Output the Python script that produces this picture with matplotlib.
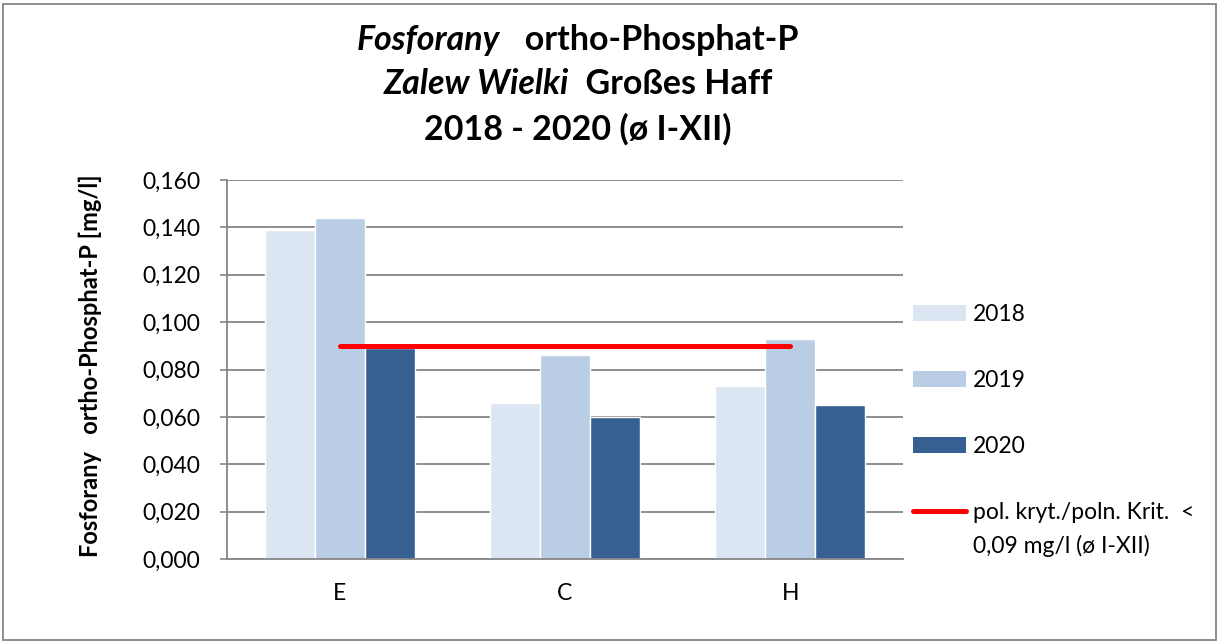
import matplotlib
matplotlib.use("Agg")
import numpy as np
import matplotlib.pyplot as plt
from matplotlib.patches import Patch, Rectangle
from matplotlib.lines import Line2D

plt.rcParams['font.family'] = ['Lato', 'DejaVu Sans']

stations = ["E", "C", "H"]
years = ["2018", "2019", "2020"]
values = {
    "2018": [0.139, 0.066, 0.073],
    "2019": [0.144, 0.086, 0.093],
    "2020": [0.089, 0.060, 0.065],
}
colors = {"2018": "#DCE6F2", "2019": "#B9CDE5", "2020": "#376092"}
criterion = 0.09
yticks = [0.0, 0.02, 0.04, 0.06, 0.08, 0.10, 0.12, 0.14, 0.16]
ytick_labels = ["0,000", "0,020", "0,040", "0,060", "0,080", "0,100", "0,120", "0,140", "0,160"]
crit_label = "pol. kryt./poln. Krit.  <"
crit_label2 = "0,09 mg/l (ø I-XII)"

W, H = 1218, 641
fs = 16.5
fig = plt.figure(figsize=(W / 100, H / 100), dpi=100)
ax = fig.add_axes([227 / W, (H - 559) / H, 676 / W, 379 / H])

x = np.arange(len(stations))
bw = 0.222
for i, y in enumerate(years):
    ax.bar(x + (i - 1) * bw, values[y], width=bw, color=colors[y],
           edgecolor="white", linewidth=1.0, zorder=2, label=y)

ax.plot([x[0], x[-1]], [criterion, criterion], color="#FF0000", lw=3.6,
        solid_capstyle="round", zorder=3)

ax.set_xlim(-0.5, 2.5)
ax.set_ylim(0, 0.16)
ax.set_yticks(yticks)
ax.set_yticklabels(ytick_labels, fontsize=fs)
ax.set_xticks(x)
ax.set_xticklabels(stations, fontsize=fs)
ax.tick_params(axis="x", length=0, pad=17)
ax.tick_params(axis="y", length=5, width=1.2, color="#868686", pad=14)
ax.yaxis.grid(True, color="#868686", lw=1.3)
ax.set_axisbelow(True)
for s in ["top", "right"]:
    ax.spines[s].set_visible(False)
for s in ["left", "bottom"]:
    ax.spines[s].set_color("#868686")
    ax.spines[s].set_linewidth(1.3)

fig.text(90 / W, 1 - 366 / H, "Fosforany   ortho-Phosphat-P [mg/l]", rotation=90,
         ha="center", va="center", fontsize=17, fontweight="bold")

# title with mixed italic / regular bold pieces
fig.canvas.draw()
r = fig.canvas.get_renderer()
title_lines = [
    [("Fosforany", "italic"), ("   ortho-Phosphat-P", "normal")],
    [("Zalew Wielki", "italic"), ("  Großes Haff", "normal")],
    [("2018 - 2020 (ø I-XII)", "normal")],
]
title_y = [40, 84, 129]
cx = 578
for parts, ty in zip(title_lines, title_y):
    texts = [fig.text(0, 1 - ty / H, s, fontsize=24.5, fontweight="bold", style=st,
                      va="center", ha="left") for s, st in parts]
    widths = [t.get_window_extent(r).width for t in texts]
    pos = cx - sum(widths) / 2
    for t, w in zip(texts, widths):
        t.set_x(pos / W)
        pos += w

handles = [Patch(facecolor=colors[y], edgecolor="none") for y in years]
handles.append(Line2D([0], [0], color="#FF0000", lw=3.6, solid_capstyle="round"))
leg = fig.legend(handles, years + [crit_label], loc="upper left",
                 bbox_to_anchor=(913 / W, 1 - 304 / H), frameon=False, fontsize=fs,
                 borderpad=0, borderaxespad=0,
                 handlelength=2.3, handleheight=0.7, handletextpad=0.3, labelspacing=1.97)

fig.canvas.draw()
last = leg.get_texts()[-1]
bb = last.get_window_extent(r)
fig.text(bb.x0 / W, (bb.y0 - 34) / H, crit_label2, fontsize=fs,
         ha="left", va="bottom")

fig.patches.append(Rectangle((3 / W, 1 / H), 1213 / W, 636 / H, transform=fig.transFigure,
                             fill=False, edgecolor="#868686", lw=1.3))

fig.savefig("out.png", dpi=100)
